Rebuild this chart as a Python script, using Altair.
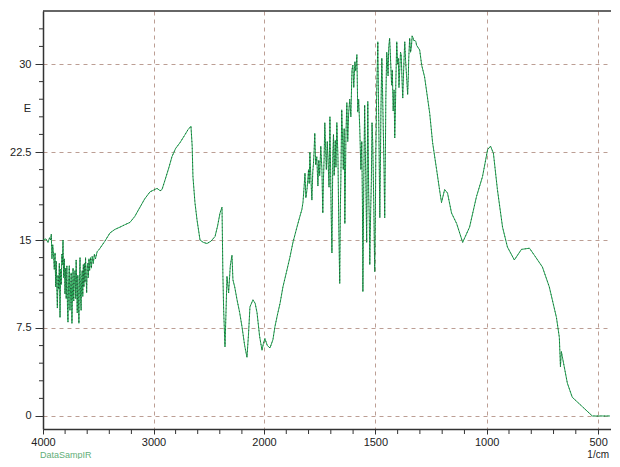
import altair as alt
import pandas as pd

# IR spectrum (wavenumber 1/cm, E)
seg_oh = [
    (4000, 15.0), (3975, 15.1), (3955, 14.8), (3940, 15.2), (3930, 15.0), (3925, 15.5),
    (3919, 13.4), (3912, 14.6), (3905, 13.8), (3898, 12.5), (3891, 13.9), (3885, 11.0),
    (3880, 13.2), (3874, 10.5), (3870, 9.2), (3864, 12.0), (3858, 10.8), (3852, 13.0),
    (3846, 8.4), (3840, 12.5), (3835, 11.2), (3829, 13.8), (3825, 12.9), (3819, 15.0),
    (3813, 11.8), (3807, 13.4), (3801, 10.4), (3795, 12.6), (3790, 10.0), (3784, 12.8),
    (3778, 9.0), (3774, 8.0), (3768, 11.5), (3762, 12.8), (3756, 9.0), (3750, 11.0),
    (3745, 12.2), (3738, 7.9), (3732, 11.0), (3728, 12.6), (3722, 9.8), (3716, 11.5),
    (3710, 12.4), (3704, 10.0), (3700, 13.3), (3694, 10.6), (3690, 8.8), (3685, 12.0),
    (3680, 10.2), (3675, 7.9), (3670, 11.5), (3665, 13.5), (3660, 10.0), (3655, 9.0),
    (3650, 11.8), (3645, 12.4), (3640, 10.2), (3635, 12.9), (3630, 11.0), (3625, 13.0),
    (3620, 11.4), (3615, 13.5), (3610, 12.0), (3605, 10.5), (3600, 12.6), (3595, 13.0),
    (3590, 11.8), (3584, 13.4), (3578, 12.4), (3570, 13.5), (3562, 12.6), (3555, 13.6),
    (3545, 13.0), (3535, 13.8), (3525, 13.4), (3510, 14.0), (3500, 14.1), (3484, 14.3),
]
seg_ch = [
    (3440, 14.9), (3394, 15.6), (3350, 15.9), (3303, 16.1), (3260, 16.3), (3213, 16.5),
    (3170, 17.0), (3122, 17.8), (3080, 18.5), (3032, 19.1), (2968, 19.4), (2940, 19.2),
    (2923, 19.3), (2896, 20.1), (2860, 21.2), (2833, 22.1), (2800, 22.8), (2760, 23.3),
    (2720, 23.9), (2688, 24.4), (2661, 24.7), (2650, 23.0), (2643, 20.4), (2625, 18.2),
    (2606, 16.7), (2579, 15.0), (2550, 14.8), (2516, 14.7), (2480, 14.9), (2443, 15.3),
    (2420, 16.2), (2398, 17.3), (2380, 17.8), (2372, 12.0), (2365, 9.0), (2353, 5.9),
    (2345, 8.5), (2335, 11.9), (2320, 10.5), (2305, 12.8), (2290, 13.7), (2281, 11.6),
    (2265, 11.0), (2244, 9.9), (2220, 8.8), (2199, 7.6), (2175, 6.0), (2154, 5.0),
    (2140, 7.0), (2127, 9.3), (2100, 9.9), (2080, 9.6), (2063, 8.8), (2040, 6.8),
    (2018, 5.6), (2005, 6.2), (1996, 6.6), (1985, 6.0), (1973, 5.8), (1960, 6.5),
    (1951, 7.6), (1940, 8.6), (1928, 9.6), (1915, 11.0), (1900, 12.2), (1884, 13.5),
    (1870, 14.8), (1852, 16.1), (1839, 17.0), (1830, 17.6),
]
seg_fp = [
    (1825, 18.2), (1820, 19.5), (1816, 20.7), (1812, 18.6), (1807, 19.3), (1803, 20.2),
    (1800, 21.0), (1797, 19.8), (1794, 22.5), (1790, 20.5), (1785, 18.4), (1781, 20.8),
    (1778, 21.5), (1775, 22.6), (1772, 24.1), (1768, 21.4), (1763, 22.1), (1758, 19.6),
    (1754, 21.8), (1750, 20.5), (1745, 23.0), (1740, 21.0), (1736, 17.3), (1733, 20.2),
    (1730, 22.0), (1727, 25.0), (1723, 22.6), (1720, 21.0), (1716, 23.4), (1713, 22.1),
    (1708, 19.5), (1704, 25.5), (1701, 21.0), (1699, 18.0), (1695, 13.9), (1691, 22.1),
    (1688, 24.0), (1685, 20.5), (1680, 23.5), (1677, 21.2), (1673, 25.0), (1668, 22.1),
    (1664, 16.0), (1660, 11.3), (1657, 18.0), (1655, 20.0), (1651, 26.1), (1647, 23.5),
    (1644, 21.0), (1640, 24.5), (1637, 16.4), (1632, 24.0), (1628, 26.7), (1624, 23.4),
    (1620, 25.8), (1615, 27.0), (1610, 25.5), (1605, 29.5), (1601, 29.9), (1597, 28.0),
    (1592, 30.2), (1588, 29.4), (1583, 30.8), (1579, 25.9), (1575, 27.0), (1570, 24.5),
    (1565, 21.0), (1561, 23.4), (1558, 18.0), (1556, 10.6), (1552, 20.0), (1548, 26.5),
    (1545, 22.5), (1543, 20.5), (1539, 14.8), (1536, 22.0), (1534, 26.8), (1530, 19.0),
    (1527, 16.5), (1525, 12.9), (1521, 17.5), (1518, 20.0), (1515, 25.0), (1512, 23.4),
    (1507, 18.0), (1503, 12.3), (1500, 17.0), (1498, 22.0), (1494, 27.6), (1491, 30.0),
    (1489, 31.9), (1486, 27.0), (1484, 24.0), (1480, 16.9), (1477, 22.0), (1475, 26.0),
    (1471, 30.5), (1468, 28.0), (1465, 25.0), (1461, 21.0), (1458, 16.9), (1455, 22.5),
    (1453, 27.0), (1449, 31.0), (1446, 30.2), (1443, 29.0), (1440, 31.4), (1436, 32.2),
    (1433, 31.0), (1431, 30.0), (1427, 28.2), (1424, 29.5), (1420, 26.0), (1416, 27.8),
    (1413, 23.7), (1410, 26.0), (1408, 28.5), (1404, 31.9), (1400, 30.0), (1397, 30.5),
    (1394, 28.0), (1391, 29.3), (1387, 31.0), (1384, 30.8), (1380, 28.5), (1377, 27.1),
    (1373, 29.5), (1370, 31.0), (1368, 31.9), (1364, 30.2), (1360, 29.0), (1355, 27.4),
    (1352, 29.0), (1350, 30.5), (1346, 32.2), (1342, 31.0), (1338, 31.5), (1335, 32.4),
    (1332, 32.3), (1328, 32.0), (1322, 32.0), (1318, 31.9), (1315, 31.6),
]
seg_low = [
    (1301, 31.2), (1292, 29.9), (1279, 28.9), (1256, 25.8), (1243, 23.3), (1225, 21.0),
    (1212, 19.3), (1203, 18.2), (1189, 19.3), (1176, 19.0), (1158, 17.3), (1135, 16.4),
    (1108, 14.8), (1077, 16.1), (1046, 18.7), (1019, 20.4), (996, 22.7), (983, 23.0),
    (970, 22.4), (952, 19.3), (929, 16.1), (907, 14.4), (876, 13.3), (844, 14.2),
    (808, 14.3), (786, 13.7), (750, 12.7), (719, 11.0), (687, 8.4), (674, 6.7),
    (669, 4.2), (665, 5.5), (660, 5.0), (638, 2.8), (616, 1.6), (571, 0.8),
    (526, 0.0), (442, 0.0),
]

x_major = [4000, 3000, 2000, 1500, 1000, 500]
x_minor = [3800, 3600, 3400, 3200, 2800, 2600, 2400, 2200, 1900, 1800, 1700, 1600,
           1400, 1300, 1200, 1100, 900, 800, 700, 600]
y_major = [0, 7.5, 15, 22.5, 30]
y_minor = [1.5, 3, 4.5, 6, 9, 10.5, 12, 13.5, 16.5, 18, 19.5, 21, 24, 25.5, 27, 28.5, 31.5, 33]

df = pd.DataFrame(seg_oh + seg_ch + seg_fp + seg_low, columns=["wn", "E"])

W, H = 568, 418
FONT = "Liberation Sans"
xscale = alt.Scale(domain=[4000, 2000, 442], range=[0, 221, W], nice=False, zero=False)
yscale = alt.Scale(domain=[-1.11, 34.52], nice=False, zero=False)

xaxis = alt.Axis(values=x_major, format="d", title=None, grid=True, gridDash=[4, 4],
                 gridColor="#bc9e94", tickSize=5, labelPadding=2, labelFlush=False,
                 labelOverlap=False)
yaxis = alt.Axis(values=y_major, labelExpr="'' + datum.value", grid=True, gridDash=[4, 4],
                 gridColor="#bc9e94", tickSize=8, labelPadding=4,
                 title="E", titleAngle=0, titleX=-16, titleY=97, titleAlign="center",
                 titleBaseline="middle", titleFontWeight="normal", titleFontSize=11,
                 titleFont=FONT, titleColor="#222")

X = alt.X("wn:Q", scale=xscale, axis=xaxis, title=None)
Y = alt.Y("E:Q", scale=yscale, axis=yaxis, title="E")

green = alt.Chart(df).mark_line(color="#22aa55", strokeWidth=1.0, clip=True).encode(x=X, y=Y)
dark = alt.Chart(df).mark_line(color="#222222", strokeWidth=0.8, strokeDash=[1, 2.5],
                               opacity=0.75, clip=True).encode(x=X, y=Y)
ymin = alt.Chart(pd.DataFrame({"E": y_minor})).mark_rule(color="#333333").encode(
    y=Y, x=alt.value(-4), x2=alt.value(0)
)
xmin = alt.Chart(pd.DataFrame({"wn": x_minor})).mark_rule(color="#333333").encode(
    x=X, y=alt.value(H), y2=alt.value(H + 5)
)
mask = alt.Chart(pd.DataFrame({"a": [0]})).mark_rule(color="#ffffff", strokeWidth=2).encode(
    x=alt.value(W), y=alt.value(1), y2=alt.value(H - 1)
)
top = alt.Chart(pd.DataFrame({"a": [0]})).mark_rule(color="#333333", strokeWidth=1.5).encode(
    x=alt.value(0), x2=alt.value(W), y=alt.value(0)
)
unit = alt.Chart(pd.DataFrame({"t": ["1/cm"]})).mark_text(
    align="right", baseline="middle", fontSize=10, font=FONT, color="#222222"
).encode(x=alt.value(W - 2), y=alt.value(H + 26), text="t:N")
src = alt.Chart(pd.DataFrame({"t": ["DataSampIR"]})).mark_text(
    align="left", baseline="middle", fontSize=9, font=FONT, color="#5fae78"
).encode(x=alt.value(-3), y=alt.value(H + 26), text="t:N")

chart = alt.layer(green, dark, ymin, xmin, mask, top, unit, src).properties(
    width=W, height=H,
    padding={"left": 35, "top": 3, "right": 0, "bottom": 30},
    autosize=alt.AutoSizeParams(type="none"),
).configure_view(stroke="#ffffff", strokeWidth=0, strokeOpacity=0).configure_axis(
    labelFont=FONT, labelFontSize=11, labelColor="#222222",
    domainColor="#333333", domainWidth=1.5, tickColor="#333333",
)

chart.save("out.html", embed_options={"renderer": "svg", "actions": False})
